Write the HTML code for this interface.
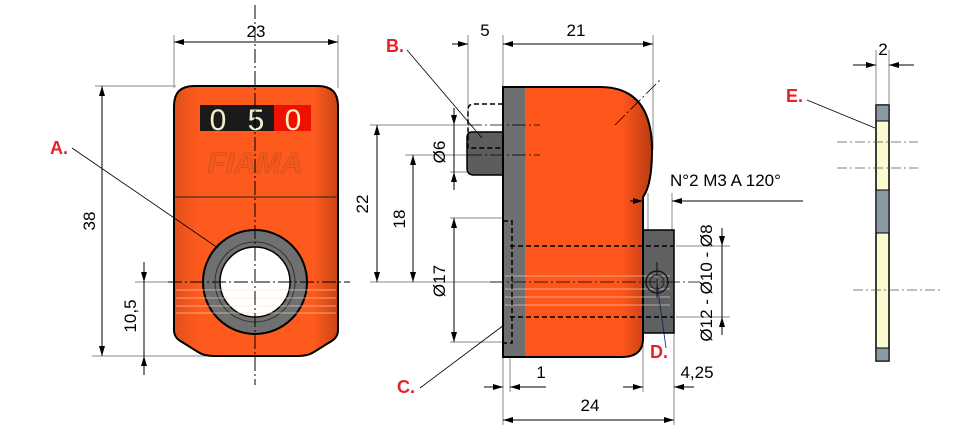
<!DOCTYPE html>
<html><head><meta charset="utf-8"><style>
html,body{margin:0;padding:0;background:#fff;}
svg{display:block;}
text{font-family:"Liberation Sans",Arial,sans-serif;}
</style></head><body>
<svg width="963" height="447" viewBox="0 0 963 447" xmlns="http://www.w3.org/2000/svg">
<defs>
<marker id="ar" viewBox="0 0 10 6" refX="10" refY="3" markerWidth="10" markerHeight="6" orient="auto-start-reverse" markerUnits="userSpaceOnUse"><path d="M0,0 L10,3 L0,6 Z" fill="#000"/></marker>
<linearGradient id="og" x1="0" y1="0" x2="1" y2="0"><stop offset="0" stop-color="#e0501a"/><stop offset="0.15" stop-color="#ff5a1e"/><stop offset="0.85" stop-color="#ff5a1e"/><stop offset="1" stop-color="#c94414"/></linearGradient>
<linearGradient id="og2" x1="0" y1="0" x2="1" y2="0"><stop offset="0" stop-color="#ff561c"/><stop offset="0.8" stop-color="#ff561c"/><stop offset="1" stop-color="#b83c10"/></linearGradient>
</defs>

<!-- FRONT VIEW -->
<g stroke="#888" stroke-width="1" fill="none">
<line x1="174" y1="35" x2="174" y2="88"/><line x1="338" y1="35" x2="338" y2="88"/>
<line x1="95" y1="86" x2="176" y2="86"/><line x1="92" y1="356" x2="240" y2="356"/>
<line x1="135" y1="282" x2="170" y2="282"/>
</g>
<path d="M194,86 H318 Q338,86 338,106 V330 Q338,338 330,342 L314,352 Q308,356 298,356 H214 Q204,356 198,352 L182,342 Q174,338 174,330 V106 Q174,86 194,86 Z" fill="url(#og)" stroke="#000" stroke-width="2"/>
<line x1="174" y1="197" x2="338" y2="197" stroke="#222" stroke-width="1"/>
<rect x="200" y="105" width="37" height="26" fill="#1a1a1a"/>
<rect x="237" y="105" width="37" height="26" fill="#1a1a1a"/>
<rect x="274" y="105" width="37" height="26" fill="#ee1100"/>
<text x="218" y="130" font-size="30" fill="#f4efc8" text-anchor="middle">0</text>
<text x="256" y="130" font-size="30" fill="#f4efc8" text-anchor="middle">5</text>
<text x="293" y="130" font-size="30" fill="#f4efc8" text-anchor="middle">0</text>
<text x="255" y="173" font-size="30" font-style="italic" font-weight="bold" fill="#ef5a20" stroke="#d04a14" stroke-width="0.6" text-anchor="middle">FIAMA</text>
<circle cx="255" cy="282" r="52" fill="#6f7070" stroke="#000" stroke-width="2"/>
<circle cx="255" cy="282" r="40" fill="none" stroke="#333" stroke-width="1"/>
<circle cx="255" cy="282" r="35" fill="#fff" stroke="#000" stroke-width="1.5"/>
<g stroke="#ffd9c8" stroke-width="0.7" opacity="0.8"><line x1="176" y1="290" x2="336" y2="290"/><line x1="176" y1="298" x2="336" y2="298"/><line x1="176" y1="306" x2="336" y2="306"/><line x1="176" y1="313" x2="336" y2="313"/></g>
<line x1="255" y1="5" x2="255" y2="385" stroke="#000" stroke-width="1" stroke-dasharray="14,3,2,3"/>
<line x1="168" y1="282" x2="350" y2="282" stroke="#000" stroke-width="1" stroke-dasharray="14,3,2,3"/>
<!-- dims front -->
<line x1="174" y1="42" x2="338" y2="42" stroke="#000" marker-start="url(#ar)" marker-end="url(#ar)"/>
<text x="256" y="37" font-size="17" text-anchor="middle">23</text>
<line x1="102" y1="86" x2="102" y2="356" stroke="#000" marker-start="url(#ar)" marker-end="url(#ar)"/>
<text transform="translate(95,221) rotate(-90)" font-size="17" text-anchor="middle">38</text>
<line x1="144" y1="262" x2="144" y2="282" stroke="#000" marker-end="url(#ar)"/>
<line x1="144" y1="375" x2="144" y2="356" stroke="#000" marker-end="url(#ar)"/>
<line x1="144" y1="282" x2="144" y2="356" stroke="#000"/>
<text transform="translate(136,316) rotate(-90)" font-size="17" text-anchor="middle">10,5</text>
<line x1="72" y1="148" x2="218" y2="248" stroke="#000" stroke-width="0.8"/>
<text x="50" y="154" font-size="18" font-weight="bold" fill="#e8202a">A.</text>

<!-- SIDE VIEW -->
<g stroke="#888" stroke-width="1" fill="none">
<line x1="468" y1="35" x2="468" y2="120"/><line x1="503" y1="35" x2="503" y2="88"/><line x1="653" y1="35" x2="653" y2="150"/>
<line x1="370" y1="125" x2="470" y2="125"/><line x1="405" y1="155" x2="470" y2="155"/>
<line x1="450" y1="172" x2="470" y2="172"/><line x1="450" y1="218" x2="505" y2="218"/>
<line x1="450" y1="342" x2="505" y2="342"/><line x1="370" y1="282" x2="505" y2="282"/>
<line x1="503" y1="357" x2="503" y2="425"/><line x1="510" y1="340" x2="510" y2="392"/>
<line x1="643" y1="333" x2="643" y2="392"/><line x1="674" y1="333" x2="674" y2="425"/>
<line x1="648" y1="193" x2="648" y2="230"/><line x1="672" y1="193" x2="672" y2="230"/>
<line x1="676" y1="246" x2="730" y2="246"/><line x1="676" y1="317" x2="730" y2="317"/>
</g>
<rect x="643" y="230" width="31" height="103" fill="#5f6061" stroke="#000" stroke-width="1.5"/>
<path d="M503,132 H472 Q467,132 467,138 V168 Q467,175 474,175 H503 Z" fill="#5c5d5e" stroke="#000" stroke-width="1.5"/>
<path d="M503,87 H600 Q652,87 652,150 Q652,185 643,197 V340 Q642,357 622,357 H503 Z" fill="url(#og2)" stroke="#000" stroke-width="2"/>
<rect x="504" y="88" width="21" height="268" fill="#6e6f70"/>
<line x1="503" y1="87" x2="503" y2="357" stroke="#000" stroke-width="2"/>
<g stroke="#ffd9c8" stroke-width="0.7" opacity="0.8"><line x1="505" y1="276" x2="670" y2="276"/><line x1="505" y1="289" x2="670" y2="289"/><line x1="505" y1="297" x2="670" y2="297"/><line x1="505" y1="305" x2="670" y2="305"/></g>
<g stroke="#000" stroke-width="1.5" fill="none" stroke-dasharray="5,3">
<path d="M503,104 H474 Q468,104 468,110 V148 H503"/>
<line x1="510" y1="246" x2="673" y2="246"/><line x1="510" y1="317" x2="673" y2="317"/>
<path d="M503,221 H512 V343 H503"/>
</g>
<circle cx="657" cy="282" r="11" fill="none" stroke="#111" stroke-width="1.2"/>
<circle cx="657" cy="282" r="7" fill="none" stroke="#111" stroke-width="0.8"/>
<g stroke="#000" stroke-width="0.8" stroke-dasharray="14,3,2,3" fill="none">
<line x1="468" y1="125" x2="540" y2="125"/><line x1="468" y1="155" x2="540" y2="155"/>
<line x1="490" y1="282" x2="700" y2="282"/><line x1="615" y1="125" x2="660" y2="80"/>
<line x1="657" y1="262" x2="657" y2="300"/>
</g>
<line x1="452" y1="44" x2="468" y2="44" stroke="#000" marker-end="url(#ar)"/>
<line x1="503" y1="44" x2="653" y2="44" stroke="#000" marker-start="url(#ar)" marker-end="url(#ar)"/>
<text x="485" y="36" font-size="17" text-anchor="middle">5</text>
<text x="576" y="36" font-size="17" text-anchor="middle">21</text>
<line x1="377" y1="125" x2="377" y2="282" stroke="#000" marker-start="url(#ar)" marker-end="url(#ar)"/>
<text transform="translate(368,204) rotate(-90)" font-size="17" text-anchor="middle">22</text>
<line x1="413" y1="155" x2="413" y2="282" stroke="#000" marker-start="url(#ar)" marker-end="url(#ar)"/>
<text transform="translate(405,219) rotate(-90)" font-size="17" text-anchor="middle">18</text>
<line x1="454" y1="108" x2="454" y2="125" stroke="#000" marker-end="url(#ar)"/>
<line x1="454" y1="190" x2="454" y2="172" stroke="#000" marker-end="url(#ar)"/>
<line x1="454" y1="125" x2="454" y2="172" stroke="#000"/>
<text transform="translate(445,152) rotate(-90)" font-size="17" text-anchor="middle">Ø6</text>
<line x1="454" y1="218" x2="454" y2="342" stroke="#000" marker-start="url(#ar)" marker-end="url(#ar)"/>
<text transform="translate(445,281) rotate(-90)" font-size="17" text-anchor="middle">Ø17</text>
<line x1="484" y1="387" x2="503" y2="387" stroke="#000" marker-end="url(#ar)"/>
<line x1="546" y1="387" x2="510" y2="387" stroke="#000" marker-end="url(#ar)"/>
<text x="541" y="378" font-size="17" text-anchor="middle">1</text>
<line x1="623" y1="387" x2="643" y2="387" stroke="#000" marker-end="url(#ar)"/>
<line x1="694" y1="387" x2="674" y2="387" stroke="#000" marker-end="url(#ar)"/>
<text x="697" y="378" font-size="17" text-anchor="middle">4,25</text>
<line x1="503" y1="420" x2="674" y2="420" stroke="#000" marker-start="url(#ar)" marker-end="url(#ar)"/>
<text x="590" y="411" font-size="17" text-anchor="middle">24</text>
<text x="670" y="186" font-size="17">N°2 M3 A 120°</text>
<line x1="630" y1="201" x2="643" y2="201" stroke="#000" marker-end="url(#ar)"/>
<line x1="803" y1="201" x2="672" y2="201" stroke="#000" marker-end="url(#ar)"/>
<line x1="722" y1="228" x2="722" y2="246" stroke="#000" marker-end="url(#ar)"/>
<line x1="722" y1="335" x2="722" y2="317" stroke="#000" marker-end="url(#ar)"/>
<line x1="722" y1="246" x2="722" y2="317" stroke="#000"/>
<text transform="translate(712,283) rotate(-90)" font-size="17" text-anchor="middle">Ø12 - Ø10 - Ø8</text>
<line x1="407" y1="50" x2="482" y2="138" stroke="#000" stroke-width="0.8"/>
<text x="386" y="52" font-size="18" font-weight="bold" fill="#e8202a">B.</text>
<line x1="420" y1="388" x2="504" y2="325" stroke="#000" stroke-width="0.8"/>
<text x="397" y="393" font-size="18" font-weight="bold" fill="#e8202a">C.</text>
<line x1="666" y1="348" x2="657" y2="283" stroke="#00205a" stroke-width="0.8"/>
<text x="650" y="358" font-size="18" font-weight="bold" fill="#e8202a">D.</text>

<!-- E VIEW -->
<g stroke="#888" stroke-width="1" fill="none">
<line x1="876" y1="50" x2="876" y2="104"/><line x1="889" y1="50" x2="889" y2="104"/>
</g>
<line x1="853" y1="65" x2="876" y2="65" stroke="#000" marker-end="url(#ar)"/>
<line x1="914" y1="65" x2="889" y2="65" stroke="#000" marker-end="url(#ar)"/>
<text x="883" y="55" font-size="17" text-anchor="middle">2</text>
<rect x="876" y="105" width="13" height="256" fill="#fbfbd0" stroke="#000" stroke-width="1.5"/>
<rect x="876" y="105" width="13" height="16" fill="#8a9aa2" stroke="#000" stroke-width="1"/>
<rect x="876" y="190" width="13" height="43" fill="#8a9aa2" stroke="#000" stroke-width="1"/>
<rect x="876" y="348" width="13" height="13" fill="#8a9aa2" stroke="#000" stroke-width="1"/>
<g stroke="#555" stroke-width="0.8" stroke-dasharray="10,3,2,3">
<line x1="837" y1="142" x2="918" y2="142"/><line x1="837" y1="168" x2="918" y2="168"/><line x1="853" y1="290" x2="943" y2="290"/>
</g>
<line x1="807" y1="100" x2="875" y2="128" stroke="#000" stroke-width="0.8"/>
<text x="786" y="102" font-size="18" font-weight="bold" fill="#e8202a">E.</text>
</svg>
</body></html>
